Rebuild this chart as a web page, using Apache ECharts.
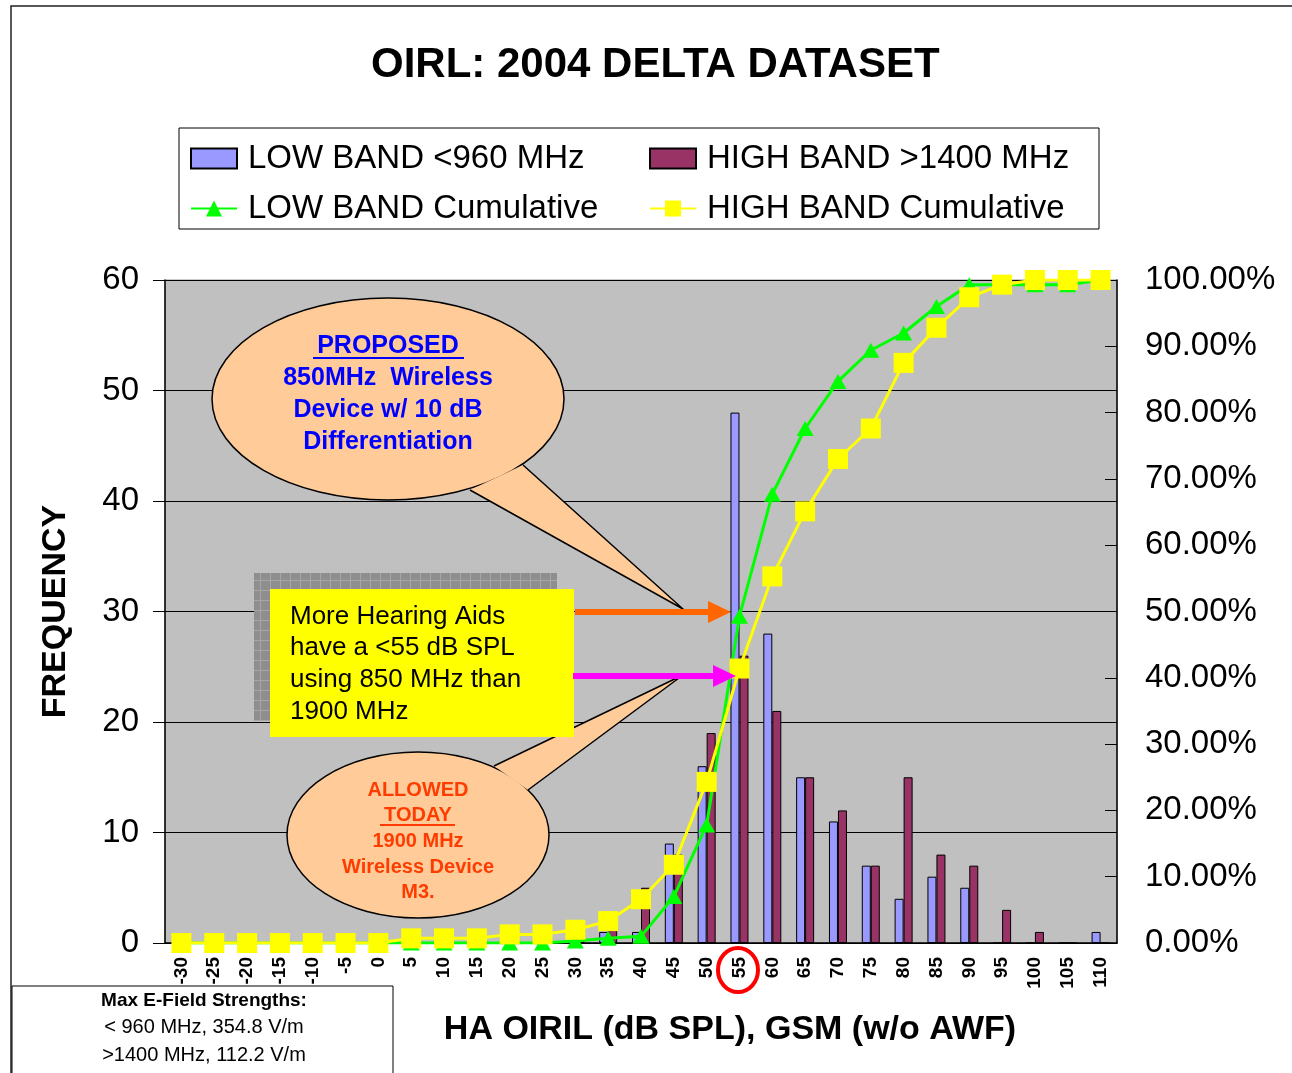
<!DOCTYPE html>
<html>
<head>
<meta charset="utf-8">
<script src="https://cdn.jsdelivr.net/npm/echarts@6/dist/echarts.min.js"></script>
<style>
  html, body { margin: 0; padding: 0; background: #fff; }
  #chart { width: 1292px; height: 1073px; }
</style>
</head>
<body>
<div id="chart"></div>
<script>
// x categories (dB SPL)
const categories = ['-30', '-25', '-20', '-15', '-10', '-5', '0', '5', '10', '15', '20', '25', '30', '35', '40',
  '45', '50', '55', '60', '65', '70', '75', '80', '85', '90', '95', '100', '105', '110']
// frequency counts
const lowBand = [0, 0, 0, 0, 0, 0, 0, 0, 0, 0, 0, 0, 0, 1, 1, 9, 16, 48, 28, 15, 11, 7, 4, 6, 5, 0, 0, 0, 1]
const highBand = [0, 0, 0, 0, 0, 0, 0, 1, 0, 0, 1, 0, 1, 2, 5, 8, 19, 26, 21, 15, 12, 7, 15, 8, 7, 3, 1, 0, 0]
// cumulative % (right axis)
const lowCum = [0, 0, 0, 0, 0, 0, 0, 0, 0, 0, 0, 0, 0.3, 0.7, 1.0, 7.0, 17.8, 49.3, 67.7, 77.6, 84.7, 89.4, 92.0, 96.0, 99.3, 99.3, 99.3, 99.3, 100]
const highCum = [0, 0, 0, 0, 0, 0, 0, 0.7, 0.7, 0.7, 1.3, 1.3, 2.0, 3.3, 6.6, 11.8, 24.3, 41.4, 55.3, 65.1, 73.0, 77.6, 87.5, 92.8, 97.4, 99.3, 100, 100, 100]

const FONT = "'Liberation Sans', Arial, sans-serif"

// shadow pattern for the yellow note
let pc = document.createElement('canvas')
pc.width = 10
pc.height = 10
let pctx = pc.getContext('2d')
pctx.fillStyle = '#8e8e8e'
pctx.fillRect(0, 0, 10, 10)
pctx.strokeStyle = '#a6a6a6'
pctx.lineWidth = 1
pctx.beginPath()
pctx.moveTo(0.5, 0); pctx.lineTo(0.5, 10)
pctx.moveTo(0, 0.5); pctx.lineTo(10, 0.5)
pctx.stroke()

// helper: one line of text
function txt(x, y, s, size, color, bold, align) {
  return {
    type: 'text', x: x, y: y, z: 60,
    style: {
      text: s, fill: color, font: (bold ? 'bold ' : '') + size + 'px ' + FONT,
      textAlign: align || 'center', textVerticalAlign: 'middle'
    }
  }
}

// callout bubble: ellipse + tail, tail outline drawn after
function bubble(cx, cy, rx, ry, p1, tip, p2) {
  return [
    { type: 'ellipse', z: 50, shape: { cx: cx, cy: cy, rx: rx, ry: ry }, style: { fill: '#FFCC99', stroke: '#000', lineWidth: 1.5 } },
    { type: 'polygon', z: 51, shape: { points: [p1, tip, p2] }, style: { fill: '#FFCC99', stroke: null } },
    { type: 'polyline', z: 52, shape: { points: [p1, tip, p2] }, style: { stroke: '#000', lineWidth: 1.5, fill: null } }
  ]
}

function arrow(x1, x2, y, color) {
  return [
    { type: 'line', z: 55, shape: { x1: x1, y1: y, x2: x2 - 20, y2: y }, style: { stroke: color, lineWidth: 6 } },
    { type: 'polygon', z: 55, shape: { points: [[x2 - 23, y - 11], [x2, y], [x2 - 23, y + 11]] }, style: { fill: color } }
  ]
}

let graphics = [
  // outer frame
  { type: 'rect', z: 0, shape: { x: 11, y: 6, width: 1400, height: 1200 }, style: { fill: null, stroke: '#222', lineWidth: 1.5 } },
  // legend frame
  { type: 'rect', z: 1, shape: { x: 179, y: 128, width: 920, height: 101 }, style: { fill: '#fff', stroke: '#000', lineWidth: 1 } },
  // red circle around 55
  { type: 'ellipse', z: 60, shape: { cx: 738, cy: 970, rx: 20, ry: 22 }, style: { fill: null, stroke: '#FF0000', lineWidth: 4 } },
  // bottom-left info box
  { type: 'rect', z: 60, shape: { x: 12, y: 986, width: 381, height: 120 }, style: { fill: '#fff', stroke: '#000', lineWidth: 1 } },
  txt(204, 1001, 'Max E-Field Strengths:', 19, '#000', true),
  txt(204, 1027, '< 960 MHz, 354.8 V/m', 20, '#000', false),
  txt(204, 1055, '>1400 MHz, 112.2 V/m', 20, '#000', false)
]

// proposed bubble
graphics = graphics.concat(bubble(388, 399, 176, 101, [523, 465], [683, 609], [470, 490]))
graphics.push(
  txt(388, 346, 'PROPOSED', 25, '#0000FF', true),
  { type: 'line', z: 60, shape: { x1: 313, y1: 358, x2: 464, y2: 358 }, style: { stroke: '#0000FF', lineWidth: 2 } },
  txt(388, 378, '850MHz  Wireless', 25, '#0000FF', true),
  txt(388, 410, 'Device w/ 10 dB', 25, '#0000FF', true),
  txt(388, 442, 'Differentiation', 25, '#0000FF', true)
)

// allowed bubble
graphics = graphics.concat(bubble(418, 835, 131, 83, [494, 766], [683, 675], [528, 790]))
graphics.push(
  txt(418, 790, 'ALLOWED', 20, '#FF3C00', true),
  txt(418, 815, 'TODAY', 20, '#FF3C00', true),
  { type: 'line', z: 60, shape: { x1: 380, y1: 825, x2: 455, y2: 825 }, style: { stroke: '#FF3C00', lineWidth: 2 } },
  txt(418, 841, '1900 MHz', 20, '#FF3C00', true),
  txt(418, 867, 'Wireless Device', 20, '#FF3C00', true),
  txt(418, 892, 'M3.', 20, '#FF3C00', true)
)

// yellow note with shadow
graphics.push(
  { type: 'rect', z: 53, shape: { x: 254, y: 573, width: 303, height: 148 }, style: { fill: { image: pc, repeat: 'repeat' } } },
  { type: 'rect', z: 54, shape: { x: 270, y: 589, width: 304, height: 148 }, style: { fill: '#FFFF00' } },
  txt(290, 617, 'More Hearing Aids', 26, '#000', false, 'left'),
  txt(290, 648, 'have a <55 dB SPL', 26, '#000', false, 'left'),
  txt(290, 680, 'using 850 MHz than', 26, '#000', false, 'left'),
  txt(290, 712, '1900 MHz', 26, '#000', false, 'left')
)
graphics = graphics.concat(arrow(575, 731, 612, '#FF6600'))
graphics = graphics.concat(arrow(573, 736, 676, '#FF00FF'))

let myChart = echarts.init(document.getElementById('chart'))
let legendText = { fontFamily: FONT, fontSize: 33, color: '#000', padding: [0, 0, 0, 6] }
let option = {
  backgroundColor: '#fff',
  animation: false,
  textStyle: { fontFamily: FONT },
  title: {
    text: 'OIRL: 2004 DELTA DATASET',
    left: 371,
    top: 44,
    padding: 0,
    textStyle: { fontSize: 42, fontWeight: 'bold', color: '#000', fontFamily: FONT }
  },
  legend: [
    { data: [{ name: 'LOW BAND <960 MHz', icon: 'rect' }], left: 185, top: 137, itemWidth: 46, itemHeight: 20, textStyle: legendText, z: 5 },
    { data: [{ name: 'HIGH BAND >1400 MHz', icon: 'rect' }], left: 644, top: 137, itemWidth: 46, itemHeight: 20, textStyle: legendText, z: 5 },
    { data: ['LOW BAND Cumulative'], left: 185, top: 187, itemWidth: 46, itemHeight: 20, textStyle: legendText, z: 5 },
    { data: ['HIGH BAND Cumulative'], left: 644, top: 187, itemWidth: 46, itemHeight: 20, textStyle: legendText, z: 5 }
  ],
  grid: {
    left: 165, right: 175, top: 280, bottom: 130,
    show: true, backgroundColor: '#C0C0C0', borderColor: '#999', borderWidth: 1
  },
  xAxis: {
    type: 'category',
    data: categories,
    name: 'HA OIRIL (dB SPL), GSM (w/o AWF)',
    nameLocation: 'middle',
    nameGap: 70,
    nameTextStyle: { fontSize: 34, fontWeight: 'bold', color: '#000', padding: [0, 0, 0, 178], fontFamily: FONT },
    axisLine: { lineStyle: { color: '#000', width: 1.5 } },
    axisTick: { length: 8, lineStyle: { color: '#000' } },
    axisLabel: { rotate: 90, interval: 0, fontSize: 19, fontWeight: 'bold', color: '#000', margin: 14, fontFamily: FONT }
  },
  yAxis: [{
    type: 'value',
    min: 0, max: 60, interval: 10,
    name: 'FREQUENCY',
    nameLocation: 'middle',
    nameRotate: 90,
    nameGap: 92,
    nameTextStyle: { fontSize: 34, fontWeight: 'bold', color: '#000', fontFamily: FONT },
    axisLine: { show: true, lineStyle: { color: '#000', width: 1.5 } },
    axisTick: { show: true, length: 12, lineStyle: { color: '#000' } },
    axisLabel: { fontSize: 33, color: '#000', margin: 26, fontFamily: FONT },
    splitLine: { lineStyle: { color: '#000', width: 1 } }
  }, {
    type: 'value',
    min: 0, max: 100, interval: 10,
    position: 'right',
    axisLine: { show: true, lineStyle: { color: '#000', width: 1.5 } },
    axisTick: { show: true, inside: true, length: 12, lineStyle: { color: '#000' } },
    axisLabel: { fontSize: 33, color: '#000', margin: 28, fontFamily: FONT, formatter: v => v.toFixed(2) + '%' },
    splitLine: { show: false }
  }],
  series: [{
    name: 'LOW BAND <960 MHz',
    type: 'bar',
    barWidth: 9,
    barGap: '0%',
    data: lowBand,
    itemStyle: { color: '#9999FF', borderColor: '#000', borderWidth: 1 }
  }, {
    name: 'HIGH BAND >1400 MHz',
    type: 'bar',
    barWidth: 9,
    barGap: '0%',
    data: highBand,
    itemStyle: { color: '#993366', borderColor: '#000', borderWidth: 1 }
  }, {
    name: 'LOW BAND Cumulative',
    type: 'line',
    yAxisIndex: 1,
    data: lowCum,
    symbol: 'triangle',
    symbolSize: [17, 15],
    lineStyle: { color: '#00FF00', width: 3 },
    itemStyle: { color: '#00FF00' },
    z: 3
  }, {
    name: 'HIGH BAND Cumulative',
    type: 'line',
    yAxisIndex: 1,
    data: highCum,
    symbol: 'rect',
    symbolSize: 20,
    lineStyle: { color: '#FFFF00', width: 3 },
    itemStyle: { color: '#FFFF00' },
    z: 4
  }],
  graphic: graphics
}
myChart.setOption(option)
</script>
</body>
</html>
